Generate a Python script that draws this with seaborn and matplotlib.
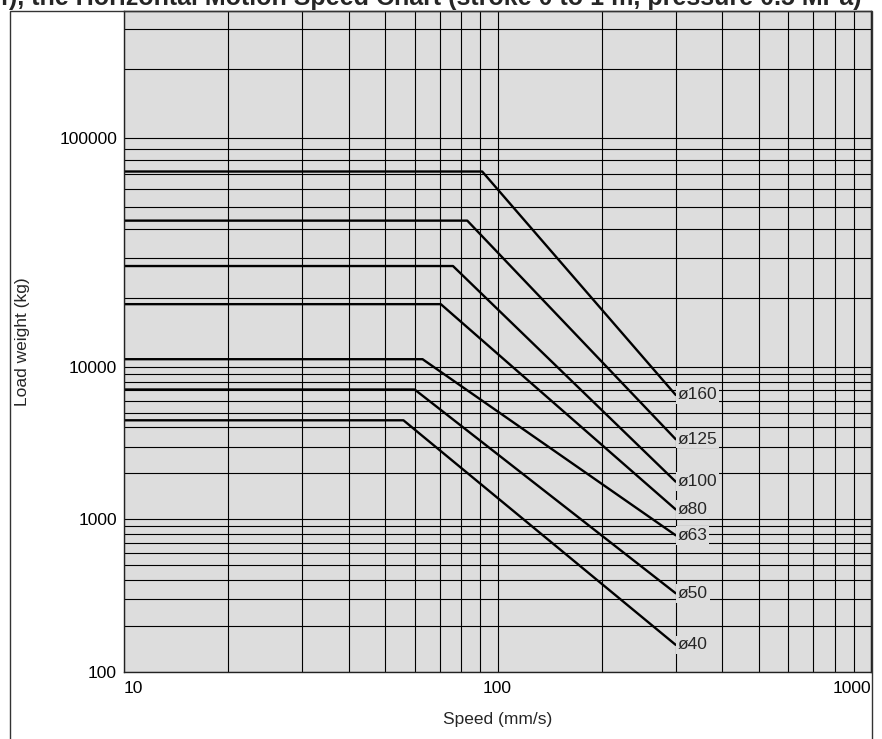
import numpy as np
import pandas as pd
import matplotlib
matplotlib.use("Agg")
import matplotlib.pyplot as plt
from matplotlib.patches import Rectangle
import seaborn as sns

# Cylinder bores and their load / speed limits
bores = ["ø160", "ø125", "ø100", "ø80", "ø63", "ø50", "ø40"]
knee_speed = [91, 83, 76, 70.5, 63, 60, 56]          # mm/s where the limit starts falling
max_load = [71500, 43600, 27600, 18800, 10800, 7100, 4460]  # kg, flat part
end_speed = 300                                        # mm/s, right end of each curve
end_load = [6540, 3350, 1765, 1160, 785, 327, 150]     # kg at end_speed
start_speed = 10

x_major = [10, 100, 1000]
x_minor = [19, 30, 40, 50, 60, 70, 80, 90, 190, 300, 400, 500, 600, 700, 800, 900]
y_major = [100, 1000, 10000, 100000]
y_minor = ([v * 100 for v in range(2, 10)] + [v * 1000 for v in range(2, 10)]
           + [v * 10000 for v in range(2, 10)] + [200000, 300000])

rows = []
for b, ks, ml, el in zip(bores, knee_speed, max_load, end_load):
    rows += [(b, start_speed, ml), (b, ks, ml), (b, end_speed, el)]
df = pd.DataFrame(rows, columns=["bore", "speed", "load"])

sns.set_style("ticks", {"axes.facecolor": "#dddddd"})
plt.rcParams["font.family"] = ["Liberation Sans", "DejaVu Sans"]

# the upper decade of the load axis is stretched by 1.5x
K = 1.5


def fwd(y):
    L = np.log10(np.clip(np.asarray(y, float), 1e-300, None))
    return np.where(L <= 4, L, 4 + (L - 4) * K)


def inv(u):
    u = np.asarray(u, float)
    return np.where(u <= 4, 10.0 ** u, 10.0 ** (4 + (u - 4) / K))


fig = plt.figure(figsize=(8.82, 7.39), dpi=100)
ax = fig.add_axes([124 / 882, 1 - 671.7 / 739, (871 - 124) / 882, (671.7 - 11) / 739])

ax.set_xscale("log")
ax.set_yscale("function", functions=(fwd, inv))
ax.set_xlim(10, 1000)
ax.set_ylim(100, 360000)

ax.set_xticks(x_major)
ax.set_xticks(x_minor, minor=True)
ax.set_yticks(y_major)
ax.set_yticks(y_minor, minor=True)
ax.set_xticklabels([str(v) for v in x_major])
ax.set_yticklabels([str(v) for v in y_major])
ax.xaxis.set_minor_formatter(plt.NullFormatter())
ax.yaxis.set_minor_formatter(plt.NullFormatter())
for lbl, ha in zip(ax.get_xticklabels(), ["left", "center", "right"]):
    lbl.set_ha(ha)
ax.tick_params(which="both", length=0, labelsize=12.5, colors="black")
ax.tick_params(axis="x", pad=7)
ax.tick_params(axis="y", pad=5)
ax.grid(which="both", color="black", linewidth=0.8)
ax.set_axisbelow(True)
for s in ax.spines.values():
    s.set_color("#222222")
    s.set_linewidth(1.0)

sns.lineplot(data=df, x="speed", y="load", units="bore", estimator=None,
             color="black", linewidth=1.7, sort=False, ax=ax, legend=False)

for b, el in zip(bores, end_load):
    ax.annotate(b, (end_speed, el), xytext=(1.5, 0), textcoords="offset points",
                ha="left", va="center", fontsize=12.5,
                bbox=dict(boxstyle="square,pad=0.1", fc="#dddddd", ec="none"))

ax.set_xlabel("Speed (mm/s)", fontsize=12.5)
ax.set_ylabel("Load weight (kg)", fontsize=12.5)
ax.xaxis.set_label_coords(0.5, -0.061)
ax.yaxis.set_label_coords(-0.126, 0.5)

fig.patches.append(Rectangle((9.5 / 882, -0.02), (871.5 - 9.5) / 882, 1.02 - 10.5 / 739,
                             transform=fig.transFigure, fill=False,
                             edgecolor="#333333", linewidth=1.0))

fig.text(862 / 882, 1 - 5 / 739,
         "Load weight (kgf), the Horizontal Motion Speed Chart (stroke 0 to 1 m, pressure 0.5 MPa)",
         ha="right", va="baseline", fontsize=18, fontweight="bold")

fig.savefig("out.png", dpi=100)
